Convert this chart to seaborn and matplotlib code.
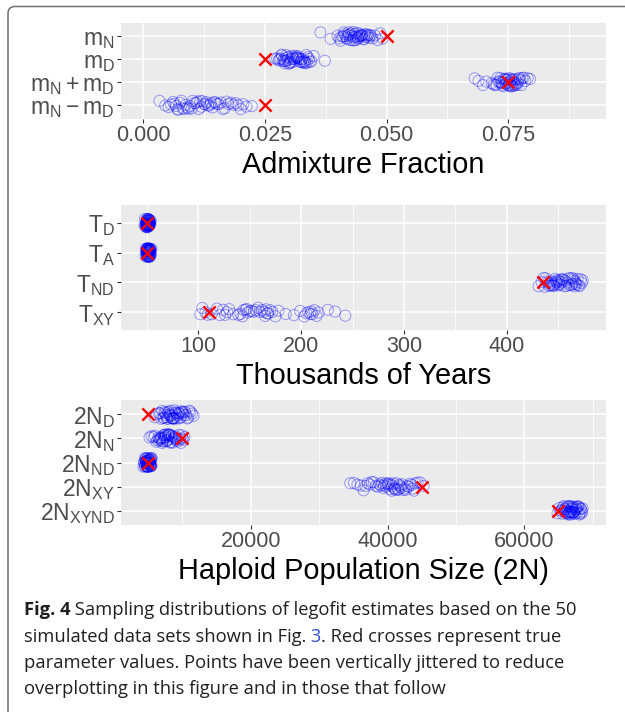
import numpy as np
import pandas as pd
import matplotlib
matplotlib.use("Agg")
import matplotlib.pyplot as plt
import seaborn as sns
from matplotlib.patches import FancyBboxPatch
from matplotlib.transforms import IdentityTransform

# ---------------- data ----------------
adm_labels = [r"$\mathregular{m_N}$", r"$\mathregular{m_D}$",
              r"$\mathregular{m_N+m_D}$", r"$\mathregular{m_N-m_D}$"]
adm_truth = [0.050, 0.025, 0.075, 0.025]
m_N = [0.0364, 0.0385, 0.0399, 0.0403, 0.0405, 0.0409, 0.0411, 0.0412, 0.0414, 0.0416,
       0.0418, 0.0419, 0.0421, 0.0422, 0.0423, 0.0425, 0.0427, 0.0428, 0.0430, 0.0431,
       0.0432, 0.0433, 0.0435, 0.0436, 0.0437, 0.0439, 0.0440, 0.0441, 0.0442, 0.0444,
       0.0445, 0.0446, 0.0448, 0.0449, 0.0450, 0.0452, 0.0454, 0.0455, 0.0457, 0.0459,
       0.0460, 0.0462, 0.0464, 0.0466, 0.0468, 0.0471, 0.0476, 0.0482, 0.0487, 0.0492]
m_D = [0.0271, 0.0275, 0.0278, 0.0280, 0.0282, 0.0284, 0.0285, 0.0287, 0.0288, 0.0290,
       0.0291, 0.0292, 0.0294, 0.0295, 0.0296, 0.0298, 0.0299, 0.0300, 0.0302, 0.0303,
       0.0304, 0.0306, 0.0307, 0.0308, 0.0310, 0.0311, 0.0313, 0.0314, 0.0315, 0.0317,
       0.0318, 0.0320, 0.0321, 0.0322, 0.0324, 0.0325, 0.0327, 0.0328, 0.0329, 0.0331,
       0.0332, 0.0333, 0.0335, 0.0336, 0.0338, 0.0340, 0.0342, 0.0345, 0.0350, 0.0373]
m_sum = [0.0681, 0.0689, 0.0698, 0.0705, 0.0716, 0.0720, 0.0723, 0.0726, 0.0728, 0.0730,
         0.0732, 0.0734, 0.0735, 0.0737, 0.0738, 0.0740, 0.0741, 0.0743, 0.0744, 0.0745,
         0.0746, 0.0747, 0.0749, 0.0750, 0.0751, 0.0752, 0.0753, 0.0754, 0.0755, 0.0756,
         0.0757, 0.0758, 0.0759, 0.0760, 0.0761, 0.0762, 0.0764, 0.0765, 0.0766, 0.0768,
         0.0769, 0.0771, 0.0773, 0.0775, 0.0777, 0.0779, 0.0782, 0.0785, 0.0790, 0.0795]
m_diff = [0.0033, 0.0045, 0.0052, 0.0057, 0.0061, 0.0064, 0.0067, 0.0070, 0.0072, 0.0075,
          0.0078, 0.0081, 0.0084, 0.0087, 0.0090, 0.0093, 0.0096, 0.0099, 0.0102, 0.0105,
          0.0108, 0.0111, 0.0114, 0.0117, 0.0119, 0.0122, 0.0125, 0.0127, 0.0130, 0.0133,
          0.0136, 0.0139, 0.0142, 0.0145, 0.0148, 0.0151, 0.0155, 0.0159, 0.0163, 0.0167,
          0.0171, 0.0175, 0.0180, 0.0185, 0.0190, 0.0195, 0.0200, 0.0205, 0.0212, 0.0223]

time_labels = [r"$\mathregular{T_D}$", r"$\mathregular{T_A}$",
               r"$\mathregular{T_{ND}}$", r"$\mathregular{T_{XY}}$"]
time_truth = [50, 50, 435, 110]
T_D = [47.6, 48.2, 48.6, 48.9, 49.1, 49.3, 49.5, 49.6, 49.8, 49.9,
       50.0, 50.1, 50.2, 50.3, 50.4, 50.5, 50.6, 50.7, 50.8, 50.9,
       51.0, 51.1, 51.2, 51.3, 51.4, 51.5, 51.6, 51.7, 51.8, 51.9,
       52.0, 52.1, 52.2, 52.3, 52.5, 52.6, 52.8, 53.0, 53.3, 53.8,
       49.4, 49.7, 50.2, 50.6, 51.0, 51.3, 51.7, 52.1, 52.4, 52.9]
T_A = [48.6, 49.0, 49.3, 49.5, 49.7, 49.9, 50.0, 50.1, 50.3, 50.4,
       50.5, 50.6, 50.7, 50.8, 50.9, 51.0, 51.1, 51.2, 51.3, 51.4,
       51.5, 51.6, 51.7, 51.8, 51.9, 52.0, 52.1, 52.2, 52.3, 52.4,
       52.5, 52.6, 52.7, 52.9, 53.0, 53.2, 53.4, 53.6, 53.9, 54.3,
       49.8, 50.2, 50.6, 51.0, 51.4, 51.8, 52.2, 52.6, 53.1, 53.7]
T_ND = [431, 434, 436, 437, 438, 439, 440, 441, 442, 443,
        443, 444, 445, 446, 446, 447, 448, 448, 449, 450,
        450, 451, 451, 452, 453, 453, 454, 455, 456, 457,
        458, 459, 460, 461, 462, 463, 464, 464, 465, 466,
        466, 467, 467, 468, 469, 470, 471, 472, 473, 474]
T_XY = [102, 104, 107, 109, 113, 118, 121, 124, 126, 128,
        130, 134, 139, 141, 143, 144, 146, 147, 148, 150,
        152, 154, 156, 158, 160, 162, 164, 165, 166, 167,
        168, 170, 172, 175, 178, 185, 193, 199, 203, 205,
        207, 209, 210, 211, 213, 215, 217, 226, 233, 243]

size_labels = [r"$\mathregular{2N_D}$", r"$\mathregular{2N_N}$",
               r"$\mathregular{2N_{ND}}$", r"$\mathregular{2N_{XY}}$",
               r"$\mathregular{2N_{XYND}}$"]
size_truth = [5000, 10000, 5000, 45000, 65000]
N_D = [5950, 6300, 6550, 6750, 6900, 7050, 7200, 7300, 7400, 7500,
       7600, 7700, 7800, 7850, 7950, 8000, 8100, 8150, 8250, 8300,
       8400, 8450, 8550, 8600, 8700, 8750, 8850, 8900, 9000, 9100,
       9200, 9250, 9350, 9450, 9550, 9650, 9750, 9850, 9950, 10050,
       10150, 10250, 10400, 10550, 10700, 10850, 11000, 11200, 11400, 11650]
N_N = [5200, 5500, 5800, 6000, 6200, 6350, 6500, 6600, 6700, 6800,
       6900, 6950, 7050, 7100, 7200, 7250, 7300, 7400, 7450, 7500,
       7550, 7600, 7700, 7750, 7800, 7900, 7950, 8000, 8100, 8150,
       8250, 8300, 8400, 8500, 8600, 8700, 8800, 8900, 9000, 9100,
       9200, 9300, 9400, 9500, 9650, 9800, 9900, 10000, 10150, 10300]
N_ND = [4300, 4380, 4450, 4500, 4540, 4580, 4610, 4640, 4670, 4700,
        4720, 4740, 4760, 4780, 4800, 4820, 4840, 4860, 4880, 4900,
        4910, 4930, 4950, 4970, 4990, 5000, 5020, 5040, 5060, 5080,
        5100, 5120, 5140, 5160, 5180, 5200, 5220, 5240, 5260, 5280,
        5300, 5320, 5340, 5360, 5380, 5400, 5430, 5460, 5490, 5520]
N_XY = [34550, 35100, 35600, 36100, 36500, 36800, 37100, 37400, 37700, 38000,
        38300, 38600, 38800, 39000, 39200, 39400, 39500, 39700, 39800, 40000,
        40100, 40200, 40350, 40500, 40600, 40700, 40850, 41000, 41100, 41200,
        41350, 41500, 41600, 41750, 41900, 42000, 42200, 42350, 42500, 42700,
        42900, 43100, 43300, 43500, 43700, 43900, 44100, 44400, 44800, 45270]
N_XYND = [64870, 65100, 65300, 65450, 65550, 65650, 65750, 65850, 65950, 66000,
          66100, 66150, 66200, 66300, 66350, 66400, 66450, 66500, 66550, 66600,
          66650, 66700, 66750, 66800, 66850, 66900, 66950, 67000, 67050, 67100,
          67150, 67200, 67250, 67300, 67400, 67450, 67500, 67600, 67650, 67700,
          67800, 67850, 67950, 68050, 68100, 68200, 68300, 68350, 68450, 68520]

adm_ticks = [0.000, 0.025, 0.050, 0.075]
adm_ticklabels = ["0.000", "0.025", "0.050", "0.075"]
time_ticks = [100, 200, 300, 400]
size_ticks = [20000, 40000, 60000]

caption_lines = [
    [("Fig. 4", "bold", "#231f20"), (" Sampling distributions of legofit estimates based on the 50", "normal", "#231f20")],
    [("simulated data sets shown in Fig.", "normal", "#231f20"), (" 3", "normal", "#2f4fd8"),
     (". Red crosses represent true", "normal", "#231f20")],
    [("parameter values. Points have been vertically jittered to reduce", "normal", "#231f20")],
    [("overplotting in this figure and in those that follow", "normal", "#231f20")],
]

# ---------------- style ----------------
sns.set_theme(style="darkgrid", rc={
    "axes.facecolor": "#EBEBEB",
    "grid.color": "white",
    "axes.edgecolor": "#EBEBEB",
})
plt.rcParams["font.family"] = ["Liberation Sans", "DejaVu Sans"]
plt.rcParams["mathtext.fontset"] = "custom"
plt.rcParams["mathtext.rm"] = "Liberation Sans"
plt.rcParams["mathtext.it"] = "Liberation Sans:italic"
plt.rcParams["mathtext.bf"] = "Liberation Sans:bold"

W, H = 625, 712
fig = plt.figure(figsize=(W / 100, H / 100), dpi=100)
fig.patch.set_facecolor("white")

def px_axes(left, top, right, bottom):
    return fig.add_axes([left / W, 1 - bottom / H, (right - left) / W, (bottom - top) / H])

np.random.seed(7)

def panel(ax, labels, series, truth, jit, xlim, ticks, ticklabels, minor, xlabel):
    df = pd.DataFrame({
        "param": np.repeat(labels, [len(s) for s in series]),
        "value": np.concatenate([np.asarray(s, float) for s in series]),
    })
    sns.stripplot(data=df, x="value", y="param", order=labels, orient="h",
                  jitter=jit, size=8.0, linewidth=0.7, color="blue",
                  edgecolor="blue", ax=ax)
    for c in ax.collections:
        c.set_facecolor("none")
        c.set_edgecolor((0.0, 0.0, 1.0, 0.36))
    sns.stripplot(x=truth, y=labels, order=labels, orient="h", jitter=False,
                  marker="x", size=8.8, linewidth=1.7, color="red",
                  edgecolor="red", ax=ax)
    n = len(labels)
    ax.set_ylim(n - 1 + 0.6, -0.6)
    ax.set_xlim(*xlim)
    ax.set_xticks(ticks)
    ax.set_xticklabels(ticklabels)
    ax.set_xticks(minor, minor=True)
    ax.grid(True, which="major", axis="both", color="white", linewidth=1.1)
    ax.grid(True, which="minor", axis="x", color="white", linewidth=0.55)
    ax.set_axisbelow(True)
    for s in ax.spines.values():
        s.set_visible(False)
    ax.tick_params(axis="both", which="major", length=2.7, width=0.8,
                   color="#333333", labelcolor="#4D4D4D", labelsize=15.5, pad=1.8)
    ax.tick_params(axis="y", which="major", labelsize=16.5)
    ax.tick_params(axis="x", which="minor", length=0)
    ax.tick_params(axis="x", which="major", bottom=True)
    ax.tick_params(axis="y", which="major", left=True)
    ax.set_xlabel(xlabel, fontsize=20.8, color="black", labelpad=3.5)
    ax.set_ylabel("")

ax1 = px_axes(121, 22.5, 606, 119)
panel(ax1, adm_labels, [m_N, m_D, m_sum, m_diff], adm_truth, 0.2,
      (-0.0046, 0.0951), adm_ticks, adm_ticklabels,
      [0.0125, 0.0375, 0.0625, 0.0875], "Admixture Fraction")

ax2 = px_axes(121, 205, 606, 330)
panel(ax2, time_labels, [T_D, T_A, T_ND, T_XY], time_truth, 0.15,
      (24.8, 496.6), time_ticks, [str(t) for t in time_ticks],
      [50, 150, 250, 350, 450], "Thousands of Years")

ax3 = px_axes(121, 400, 606, 525)
panel(ax3, size_labels, [N_D, N_N, N_ND, N_XY, N_XYND], size_truth, 0.19,
      (1030, 71950), size_ticks, [str(t) for t in size_ticks],
      [10000, 30000, 50000, 70000], "Haploid Population Size (2N)")

# frame with rounded top-left corner
frame = FancyBboxPatch((8, -30), 660, H - 6.5 + 30,
                       boxstyle="round,pad=0,rounding_size=7",
                       fill=False, edgecolor="#6f6f6f", linewidth=1.1,
                       transform=IdentityTransform(), clip_on=False)
fig.add_artist(frame)

# caption
renderer = fig.canvas.get_renderer()
cap_family = ["Open Sans", "DejaVu Sans"]
cap_size = 13.2
baselines = [615, 641.5, 668, 694.5]
for line, yb in zip(caption_lines, baselines):
    x = 23.5
    for txt, weight, col in line:
        t = fig.text(x / W, 1 - yb / H, txt, fontsize=cap_size, family=cap_family,
                     fontweight=weight, color=col, ha="left", va="baseline")
        bb = t.get_window_extent(renderer=renderer)
        x += bb.width

fig.savefig("out.png", dpi=100)
